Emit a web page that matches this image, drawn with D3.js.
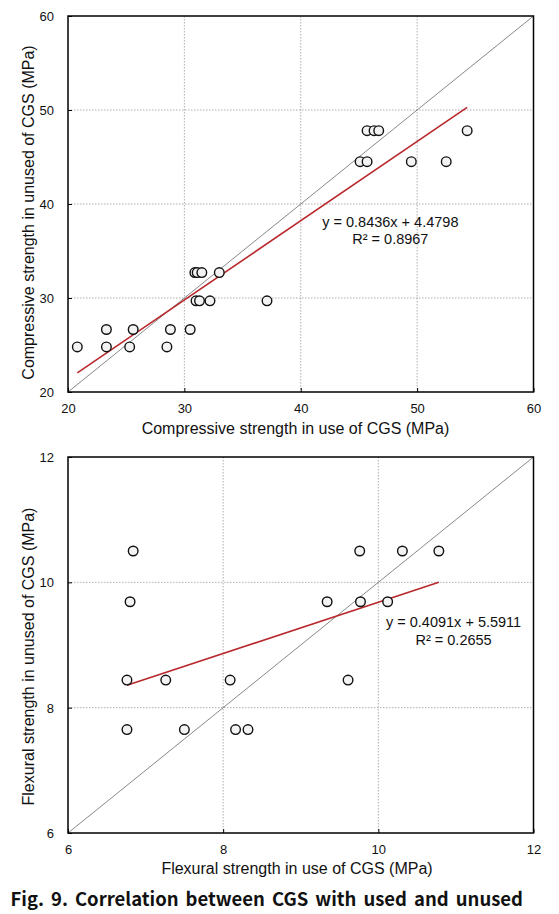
<!DOCTYPE html>
<html><head><meta charset="utf-8">
<script src="https://cdn.jsdelivr.net/npm/d3@7"></script>
<style>
html,body{margin:0;padding:0;background:#fff;}
svg{display:block;font-family:"Liberation Sans",Arial,sans-serif;}
</style></head>
<body>
<svg id="c" width="559" height="914"></svg>
<script>
// ---------- DATA ----------
// Top panel: compressive strength (MPa)
const compUse    = [20.8, 23.3, 25.3, 28.5, 23.3, 25.6, 28.8, 30.5, 31.0, 31.3, 32.2, 37.1, 30.9, 31.1, 31.5, 33.0, 45.1, 45.7, 49.5, 52.5, 45.7, 46.3, 46.7, 54.3];
const compUnused = [24.8, 24.8, 24.8, 24.8, 26.65, 26.65, 26.65, 26.65, 29.7, 29.7, 29.7, 29.7, 32.7, 32.7, 32.7, 32.7, 44.5, 44.5, 44.5, 44.5, 47.8, 47.8, 47.8, 47.8];
const compFit = [0.8436, 4.4798];        // slope, intercept
const compR2 = "0.8967";
const compTicks = [20, 30, 40, 50, 60];

// Bottom panel: flexural strength (MPa)
const flexUse    = [6.84, 9.76, 10.31, 10.78, 6.80, 9.34, 9.77, 10.12, 6.76, 7.26, 8.09, 9.61, 6.76, 7.50, 8.16, 8.32];
const flexUnused = [10.5, 10.5, 10.5, 10.5, 9.69, 9.69, 9.69, 9.69, 8.44, 8.44, 8.44, 8.44, 7.65, 7.65, 7.65, 7.65];
const flexFit = [0.4091, 5.5911];
const flexR2 = "0.2655";
const flexTicks = [6, 8, 10, 12];

const captionWords = ["Fig.", "9.", "Correlation", "between", "CGS", "with", "used", "and", "unused"];

// ---------- DRAW ----------
const svg = d3.select("#c");

function panel(o) {
  const x = d3.scaleLinear().domain(o.domain).range([o.left, o.right]);
  const y = d3.scaleLinear().domain(o.domain).range([o.bottom, o.top]);
  const g = svg.append("g");
  const inner = o.ticks.slice(1, -1);
  const fmt = d3.format("d");

  // dotted gridlines
  g.selectAll(".gx").data(inner).join("line")
    .attr("x1", d => x(d)).attr("x2", d => x(d))
    .attr("y1", o.top).attr("y2", o.bottom)
    .attr("stroke", "#9a9a9a").attr("stroke-width", 0.8).attr("stroke-dasharray", "1.5,1.5");
  g.selectAll(".gy").data(inner).join("line")
    .attr("y1", d => y(d)).attr("y2", d => y(d))
    .attr("x1", o.left).attr("x2", o.right)
    .attr("stroke", "#9a9a9a").attr("stroke-width", 0.8).attr("stroke-dasharray", "1.5,1.5");

  // 1:1 diagonal
  g.append("line")
    .attr("x1", x(o.domain[0])).attr("y1", y(o.domain[0]))
    .attr("x2", x(o.domain[1])).attr("y2", y(o.domain[1]))
    .attr("stroke", "#555").attr("stroke-width", 0.7);

  // regression line across data range
  const xs = d3.extent(o.xv);
  g.append("line")
    .attr("x1", x(xs[0])).attr("y1", y(o.fit[0] * xs[0] + o.fit[1]))
    .attr("x2", x(xs[1])).attr("y2", y(o.fit[0] * xs[1] + o.fit[1]))
    .attr("stroke", "#b8282c").attr("stroke-width", 1.6);

  // axes with inward ticks
  const ax = g.append("g").attr("transform", `translate(0,${o.bottom})`)
    .call(d3.axisBottom(x).tickValues(o.ticks).tickFormat(fmt).tickSizeInner(-4).tickSizeOuter(0));
  const ay = g.append("g").attr("transform", `translate(${o.left},0)`)
    .call(d3.axisLeft(y).tickValues(o.ticks).tickFormat(fmt).tickSizeInner(-4).tickSizeOuter(0));
  [ax, ay].forEach(a => {
    a.select(".domain").remove();
    a.selectAll("line").attr("stroke", "#000").attr("stroke-width", 1);
    a.selectAll("text").attr("font-size", 13).attr("fill", "#111")
      .attr("font-family", '"Liberation Sans",Arial,sans-serif');
  });
  ax.selectAll("text").attr("dy", null).attr("y", 16).attr("dominant-baseline", "central");
  ay.selectAll("text").attr("dy", null).attr("x", -14).attr("dominant-baseline", "central");

  // frame
  g.append("rect").attr("x", o.left).attr("y", o.top)
    .attr("width", o.right - o.left).attr("height", o.bottom - o.top)
    .attr("fill", "none").attr("stroke", "#000").attr("stroke-width", 1.5);

  // points
  g.selectAll(".pt").data(o.xv.map((v, i) => [v, o.yv[i]])).join("circle")
    .attr("cx", d => x(d[0])).attr("cy", d => y(d[1])).attr("r", 4.8)
    .attr("fill", "#f2f3f2").attr("stroke", "#111").attr("stroke-width", 1.4);

  // equation text
  g.append("text").attr("x", x(o.eqPos[0])).attr("y", y(o.eqPos[1]))
    .attr("text-anchor", "middle").attr("dominant-baseline", "central")
    .attr("font-size", 14.5).attr("fill", "#111")
    .text(`y = ${o.fit[0].toFixed(4)}x + ${o.fit[1].toFixed(4)}`);
  g.append("text").attr("x", x(o.eqPos[0])).attr("y", y(o.eqPos[2]))
    .attr("text-anchor", "middle").attr("dominant-baseline", "central")
    .attr("font-size", 14.5).attr("fill", "#111")
    .text(`R² = ${o.r2}`);

  // axis titles
  g.append("text").attr("x", o.xTitle[0]).attr("y", o.xTitle[1])
    .attr("text-anchor", "middle").attr("dominant-baseline", "central")
    .attr("font-size", 16).attr("fill", "#111").text(o.xLabel);
  g.append("text")
    .attr("transform", `translate(${o.yTitle[0]},${o.yTitle[1]}) rotate(-90)`)
    .attr("text-anchor", "middle").attr("dominant-baseline", "central")
    .attr("font-size", 16).attr("fill", "#111").text(o.yLabel);
}

panel({
  domain: [20, 60], ticks: compTicks, left: 68, right: 533.5, top: 16, bottom: 392,
  xv: compUse, yv: compUnused, fit: compFit, r2: compR2, eqPos: [47.7, 38.05, 36.3],
  xLabel: "Compressive strength in use of CGS (MPa)", yLabel: "Compressive strength in unused of CGS (MPa)",
  xTitle: [295.5, 428], yTitle: [28.5, 212.5]
});
panel({
  domain: [6, 12], ticks: flexTicks, left: 68, right: 533.5, top: 457, bottom: 833,
  xv: flexUse, yv: flexUnused, fit: flexFit, r2: flexR2, eqPos: [10.97, 9.36, 9.085],
  xLabel: "Flexural strength in use of CGS (MPa)", yLabel: "Flexural strength in unused of CGS (MPa)",
  xTitle: [297, 868.5], yTitle: [28.5, 656.5]
});

// caption, justified between x=10.5 and x=523
const cap = svg.append("g");
const capT = cap.selectAll("text").data(captionWords).join("text")
  .attr("y", 898).attr("dominant-baseline", "central")
  .attr("font-family", '"Noto Sans CJK KR","Noto Sans",sans-serif')
  .attr("font-weight", "bold").attr("font-size", 18.5).attr("fill", "#111")
  .text(d => d);
const widths = capT.nodes().map(n => n.getComputedTextLength());
const total = d3.sum(widths);
const gap = (523 - 10.5 - total) / (captionWords.length - 1);
let cx = 10.5;
capT.attr("x", (d, i) => { const v = cx; cx += widths[i] + gap; return v; });
</script>
</body></html>
